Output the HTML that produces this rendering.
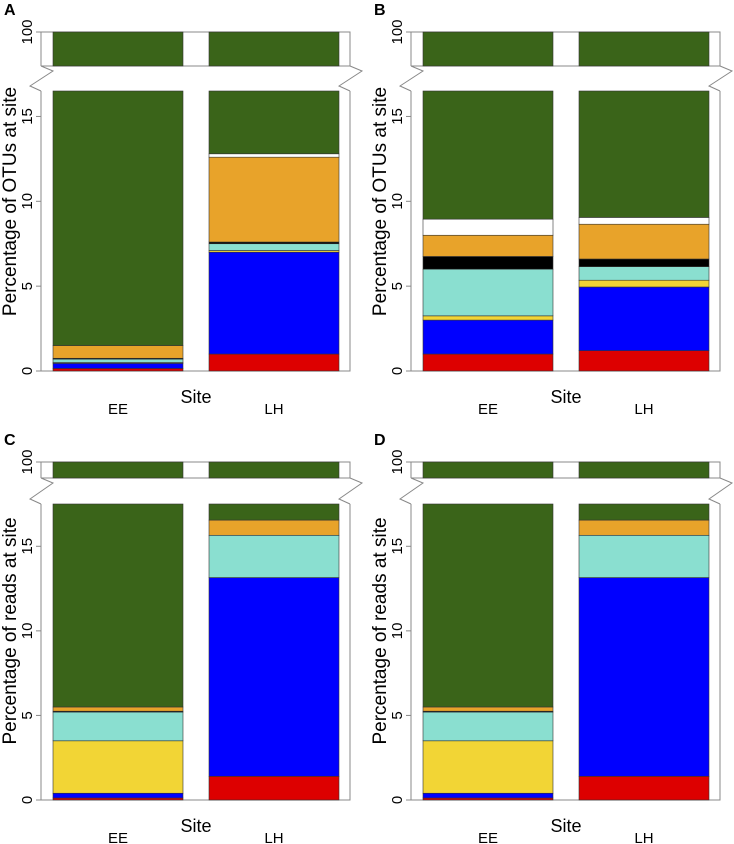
<!DOCTYPE html>
<html><head><meta charset="utf-8"><style>
body{margin:0;background:#fff}
svg{display:block;font-family:"Liberation Sans",sans-serif}
</style></head><body>
<svg id="chart" width="734" height="844" viewBox="0 0 734 844"></svg>
<script>
const sites = ["EE","LH"];
const seriesNames = ["red","blue","yellow","cyan","black","orange","white"];
const colors = ["#dd0000","#0000ff","#f2d535","#8adfd0","#000000","#e8a32a","#ffffff"];
const greenColor = "#3a6419";
const yTicks = [0,5,10,15];
// segment heights (percent) stacked from bottom, per panel per site
const panelA_EE = [0.15,0.3,0.05,0.2,0.05,0.75,0];
const panelA_LH = [1.0,6.0,0.1,0.4,0.1,5.0,0.2];
const panelB_EE = [1.0,2.0,0.25,2.75,0.75,1.25,0.95];
const panelB_LH = [1.2,3.75,0.4,0.8,0.45,2.05,0.4];
const panelC_EE = [0.12,0.28,3.1,1.7,0.05,0.25,0];
const panelC_LH = [1.4,11.75,0,2.5,0,0.9,0];
const panelD_EE = [0.12,0.28,3.1,1.7,0.05,0.25,0];
const panelD_LH = [1.4,11.75,0,2.5,0,0.9,0];
const panelLetters = ["A","B","C","D"];
const yTitles = ["Percentage of OTUs at site","Percentage of OTUs at site","Percentage of reads at site","Percentage of reads at site"];
const yMaxes = [16.5,16.5,17.5,17.5];

const svg = document.getElementById('chart');
const NS = "http://www.w3.org/2000/svg";
function mk(tag, attrs, parent){
  const e = document.createElementNS(NS, tag);
  for (const k in attrs) e.setAttribute(k, attrs[k]);
  (parent||svg).appendChild(e);
  return e;
}
const panels = [
  {ox:0, topY:32, topB:66, lowT:91, base:371, data:[panelA_EE,panelA_LH]},
  {ox:370, topY:32, topB:66, lowT:91, base:371, data:[panelB_EE,panelB_LH]},
  {ox:0, topY:462, topB:478, lowT:504, base:800, data:[panelC_EE,panelC_LH]},
  {ox:370, topY:462, topB:478, lowT:504, base:800, data:[panelD_EE,panelD_LH]}
];
panels.forEach((p, pi) => {
  const g = mk('g', {});
  
  
  const ox = p.ox, L = ox + 41, R = ox + 350;
  const yMax = yMaxes[pi];
  const y = v => p.base - (p.base - p.lowT) * v / yMax;
  const barX = [ox + 53, ox + 209], barW = 130;
  const grey = "#888";
  mk('path', {d:`M${L},${p.topB} L${L},${p.topY} L${R},${p.topY} L${R},${p.topB} L${L},${p.topB}`, fill:'none', stroke:grey, 'stroke-width':1}, g);
  mk('path', {d:`M${L},${p.lowT} L${L},${p.base} L${R},${p.base} L${R},${p.lowT}`, fill:'none', stroke:grey, 'stroke-width':1}, g);
  mk('path', {d:`M${L},${p.topB} L${L+12},${p.topB+5} L${L-11},${p.lowT-5} L${L},${p.lowT}`, fill:'none', stroke:grey, 'stroke-width':1}, g);
  mk('path', {d:`M${R},${p.topB} L${R+12},${p.topB+5} L${R-11},${p.lowT-5} L${R},${p.lowT}`, fill:'none', stroke:grey, 'stroke-width':1}, g);
  p.data.forEach((vals, si) => {
    const bx = barX[si];
    const top = mk('rect', {x:bx, y:p.topY, width:barW, height:p.topB - p.topY, fill:greenColor, stroke:'#333', 'stroke-width':0.6}, g);
    
    
    let cum = 0;
    vals.forEach((v, k) => {
      if (v > 0) {
        const r = mk('rect', {x:bx, y:y(cum + v), width:barW, height:y(cum) - y(cum + v), fill:colors[k], stroke:'#333', 'stroke-width':0.6}, g);
        
        
      }
      cum += v;
    });
    const gr = mk('rect', {x:bx, y:p.lowT, width:barW, height:y(cum) - p.lowT, fill:greenColor, stroke:'#333', 'stroke-width':0.6}, g);
    
    
    const t = mk('text', {x:bx + barW/2, y:p.base + 43, 'font-size':15, 'text-anchor':'middle', fill:'#000'}, g);
    t.textContent = sites[si];
    
    
  });
  yTicks.forEach(v => {
    mk('line', {x1:L-5, x2:L, y1:y(v), y2:y(v), stroke:grey}, g);
    const t = mk('text', {transform:`translate(${ox+32},${y(v)}) rotate(-90)`, 'font-size':15, 'text-anchor':'middle', fill:'#000'}, g);
    t.textContent = v;
    
    
  });
  mk('line', {x1:L-5, x2:L, y1:p.topY, y2:p.topY, stroke:grey}, g);
  const t100 = mk('text', {transform:`translate(${ox+32},${p.topY}) rotate(-90)`, 'font-size':15, 'text-anchor':'middle', fill:'#000'}, g);
  t100.textContent = "100";
  
  
  const yt = mk('text', {transform:`translate(${ox+16},${(p.topY+p.base)/2}) rotate(-90)`, 'font-size':19, 'text-anchor':'middle', fill:'#000'}, g);
  yt.textContent = yTitles[pi];
  
  
  const xt = mk('text', {x:ox+196, y:p.base + 32, 'font-size':18, 'text-anchor':'middle', fill:'#000'}, g);
  xt.textContent = "Site";
  
  
  const pl = mk('text', {x:ox+4, y:p.topY - 17, 'font-size':16, 'font-weight':'bold', fill:'#000'}, g);
  pl.textContent = panelLetters[pi];
  
  
});
</script>
</body></html>
